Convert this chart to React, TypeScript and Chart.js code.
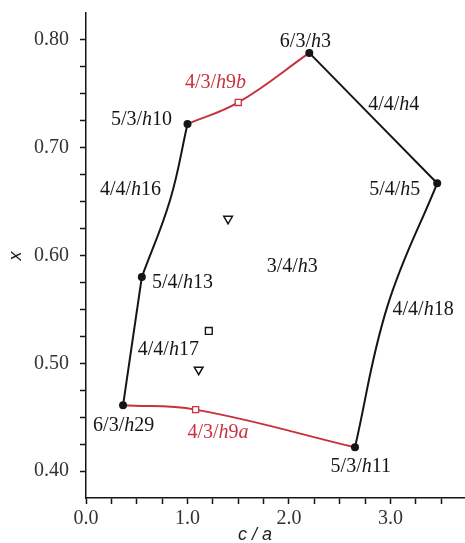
import React, { useEffect, useRef } from "react";
import { Chart, registerables } from "chart.js";
Chart.register(...registerables);

// Phase points (filled black circles)
const phaseX = [2.2, 1.0, 3.46, 0.55, 0.365, 2.65];
const phaseY = [0.788, 0.722, 0.667, 0.58, 0.461, 0.422];
// Red open squares (4/3/h9b, 4/3/h9a)
const redSqX = [1.5, 1.08];
const redSqY = [0.742, 0.457];
// Open triangles (down) and open square
const triX = [1.4, 1.11];
const triY = [0.634, 0.494];
const sqX = [1.21];
const sqY = [0.53];

// Boundary curves
const curveAX = [1.0, 0.83, 0.55];
const curveAY = [0.722, 0.652, 0.58];
const curveBX = [0.55, 0.365];
const curveBY = [0.58, 0.461];
const curveCX = [2.2, 3.46];
const curveCY = [0.788, 0.667];
const curveDX = [3.46, 2.97, 2.65];
const curveDY = [0.667, 0.553, 0.422];
const redTopX = [1.0, 1.5, 2.2];
const redTopY = [0.722, 0.742, 0.788];
const redBotX = [0.365, 1.08, 2.65];
const redBotY = [0.461, 0.457, 0.422];

// Text labels
const labelText = ["6/3/h3", "4/3/h9b", "5/3/h10", "4/4/h4", "5/4/h5", "4/4/h16", "5/4/h13", "3/4/h3", "4/4/h18", "4/4/h17", "6/3/h29", "4/3/h9a", "5/3/h11"];
const labelX = [1.91, 0.975, 0.246, 2.78, 2.79, 0.138, 0.65, 1.78, 3.02, 0.51, 0.07, 1.0, 2.41];
const labelY = [0.798, 0.76, 0.726, 0.74, 0.661, 0.661, 0.575, 0.59, 0.55, 0.513, 0.442, 0.436, 0.404];
const labelRed = [false, true, false, false, false, false, false, false, false, false, false, true, false];

// Ticks
const xTickValues = [0, 0.25, 0.5, 0.75, 1, 1.25, 1.5, 1.75, 2, 2.25, 2.5, 2.75, 3, 3.25, 3.5];
const xTickLabels = ["0.0", "", "", "", "1.0", "", "", "", "2.0", "", "", "", "3.0", "", ""];
const yTickValues = [0.4, 0.425, 0.45, 0.475, 0.5, 0.525, 0.55, 0.575, 0.6, 0.625, 0.65, 0.675, 0.7, 0.725, 0.75, 0.775, 0.8];
const yTickLabels = ["0.40", "", "", "", "0.50", "", "", "", "0.60", "", "", "", "0.70", "", "", "", "0.80"];

const BLACK = "#151515";
const RED = "#c7323d";
const SERIF = '"Liberation Serif", "Times New Roman", serif';

const pts = (xs: number[], ys: number[]) => xs.map((x, i) => ({ x, y: ys[i] }));

const lineDs = (xs: number[], ys: number[], color: string) => ({
  data: pts(xs, ys),
  showLine: true,
  tension: 0.4,
  borderColor: color,
  borderWidth: 2,
  pointRadius: 0,
  fill: false,
});

// stretch the plot area to the right edge of the canvas
const stretchPlugin = {
  id: "stretch",
  afterLayout(chart: any) {
    const a = chart.chartArea;
    const x = chart.scales.x;
    a.right = chart.width;
    a.width = a.right - a.left;
    x.right = chart.width;
    x.width = x.right - x.left;
    x.configure();
  },
};

const labelPlugin = {
  id: "labels",
  afterDatasetsDraw(chart: any) {
    const ctx = chart.ctx;
    const xs = chart.scales.x;
    const ys = chart.scales.y;
    ctx.save();
    ctx.textBaseline = "middle";
    ctx.textAlign = "left";
    labelText.forEach((t, i) => {
      let px = xs.getPixelForValue(labelX[i]);
      const py = ys.getPixelForValue(labelY[i]);
      ctx.fillStyle = labelRed[i] ? RED : BLACK;
      const runs = t.match(/[a-z]+|[^a-z]+/g) || [];
      runs.forEach((r) => {
        const it = /[a-z]/.test(r);
        ctx.font = `${it ? "italic " : ""}20px ${SERIF}`;
        ctx.fillText(r, px, py);
        px += ctx.measureText(r).width;
      });
    });
    // axis titles
    ctx.fillStyle = "#222";
    ctx.font = 'italic 18px "Liberation Sans", Arial, sans-serif';
    ctx.textAlign = "center";
    ctx.fillText("c / a", 255, 535);
    ctx.translate(16, 256);
    ctx.rotate(-Math.PI / 2);
    ctx.fillText("x", 0, 0);
    ctx.restore();
  },
};

export default function App() {
  const ref = useRef<HTMLCanvasElement>(null);
  useEffect(() => {
    document.body.style.margin = "0";
    const chart = new Chart(ref.current!, {
      type: "scatter",
      data: {
        datasets: [
          {
            data: pts(phaseX, phaseY),
            pointStyle: "circle",
            pointRadius: 4,
            backgroundColor: BLACK,
            borderColor: BLACK,
            borderWidth: 0,
          },
          {
            data: pts(redSqX, redSqY),
            pointStyle: "rect",
            pointRadius: 4.3,
            backgroundColor: "#fff",
            borderColor: RED,
            borderWidth: 1.3,
          },
          {
            data: pts(triX, triY),
            pointStyle: "triangle",
            rotation: 180,
            pointRadius: 5,
            backgroundColor: "#fff",
            borderColor: BLACK,
            borderWidth: 1.5,
          },
          {
            data: pts(sqX, sqY),
            pointStyle: "rect",
            pointRadius: 4.8,
            backgroundColor: "#fff",
            borderColor: BLACK,
            borderWidth: 1.4,
          },
          lineDs(curveAX, curveAY, BLACK),
          lineDs(curveBX, curveBY, BLACK),
          lineDs(curveCX, curveCY, BLACK),
          lineDs(curveDX, curveDY, BLACK),
          lineDs(redTopX, redTopY, RED),
          lineDs(redBotX, redBotY, RED),
        ] as any,
      },
      options: {
        responsive: false,
        animation: false,
        events: [],
        layout: { padding: { top: 13, right: 0, left: 0, bottom: 0 } },
        plugins: { legend: { display: false }, tooltip: { enabled: false } },
        scales: {
          x: {
            type: "linear",
            min: 0,
            max: 3.734,
            afterBuildTicks: (s: any) => {
              s.ticks = xTickValues.map((v) => ({ value: v }));
            },
            afterFit: (s: any) => {
              s.height = 45;
              s.paddingLeft = 0;
              s.paddingRight = 0;
              s.paddingTop = 0;
              s.paddingBottom = 0;
            },
            ticks: {
              autoSkip: false,
              maxRotation: 0,
              padding: 3,
              color: "#333",
              font: { family: SERIF, size: 20 },
              callback: (v: any) => {
                const i = xTickValues.findIndex((t) => Math.abs(t - v) < 1e-6);
                return i >= 0 ? xTickLabels[i] : "";
              },
            },
            grid: { drawOnChartArea: false, tickLength: 6, color: BLACK, tickWidth: 1.5 },
            border: { display: true, color: BLACK, width: 1.5 },
          },
          y: {
            type: "linear",
            min: 0.375,
            max: 0.825,
            afterBuildTicks: (s: any) => {
              s.ticks = yTickValues.map((v) => ({ value: v }));
            },
            afterFit: (s: any) => {
              s.width = 86;
              s.paddingLeft = 0;
              s.paddingRight = 0;
              s.paddingTop = 0;
              s.paddingBottom = 0;
            },
            ticks: {
              autoSkip: false,
              padding: 11,
              color: "#333",
              font: { family: SERIF, size: 20 },
              callback: (v: any) => {
                const i = yTickValues.findIndex((t) => Math.abs(t - v) < 1e-6);
                return i >= 0 ? yTickLabels[i] : "";
              },
            },
            grid: { drawOnChartArea: false, tickLength: 6, color: BLACK, tickWidth: 1.5 },
            border: { display: true, color: BLACK, width: 1.5 },
          },
        },
      },
      plugins: [stretchPlugin, labelPlugin],
    });
    return () => chart.destroy();
  }, []);
  return (
    <div style={{ width: 465, height: 543, background: "#fff" }}>
      <canvas ref={ref} width={465} height={543} />
    </div>
  );
}
